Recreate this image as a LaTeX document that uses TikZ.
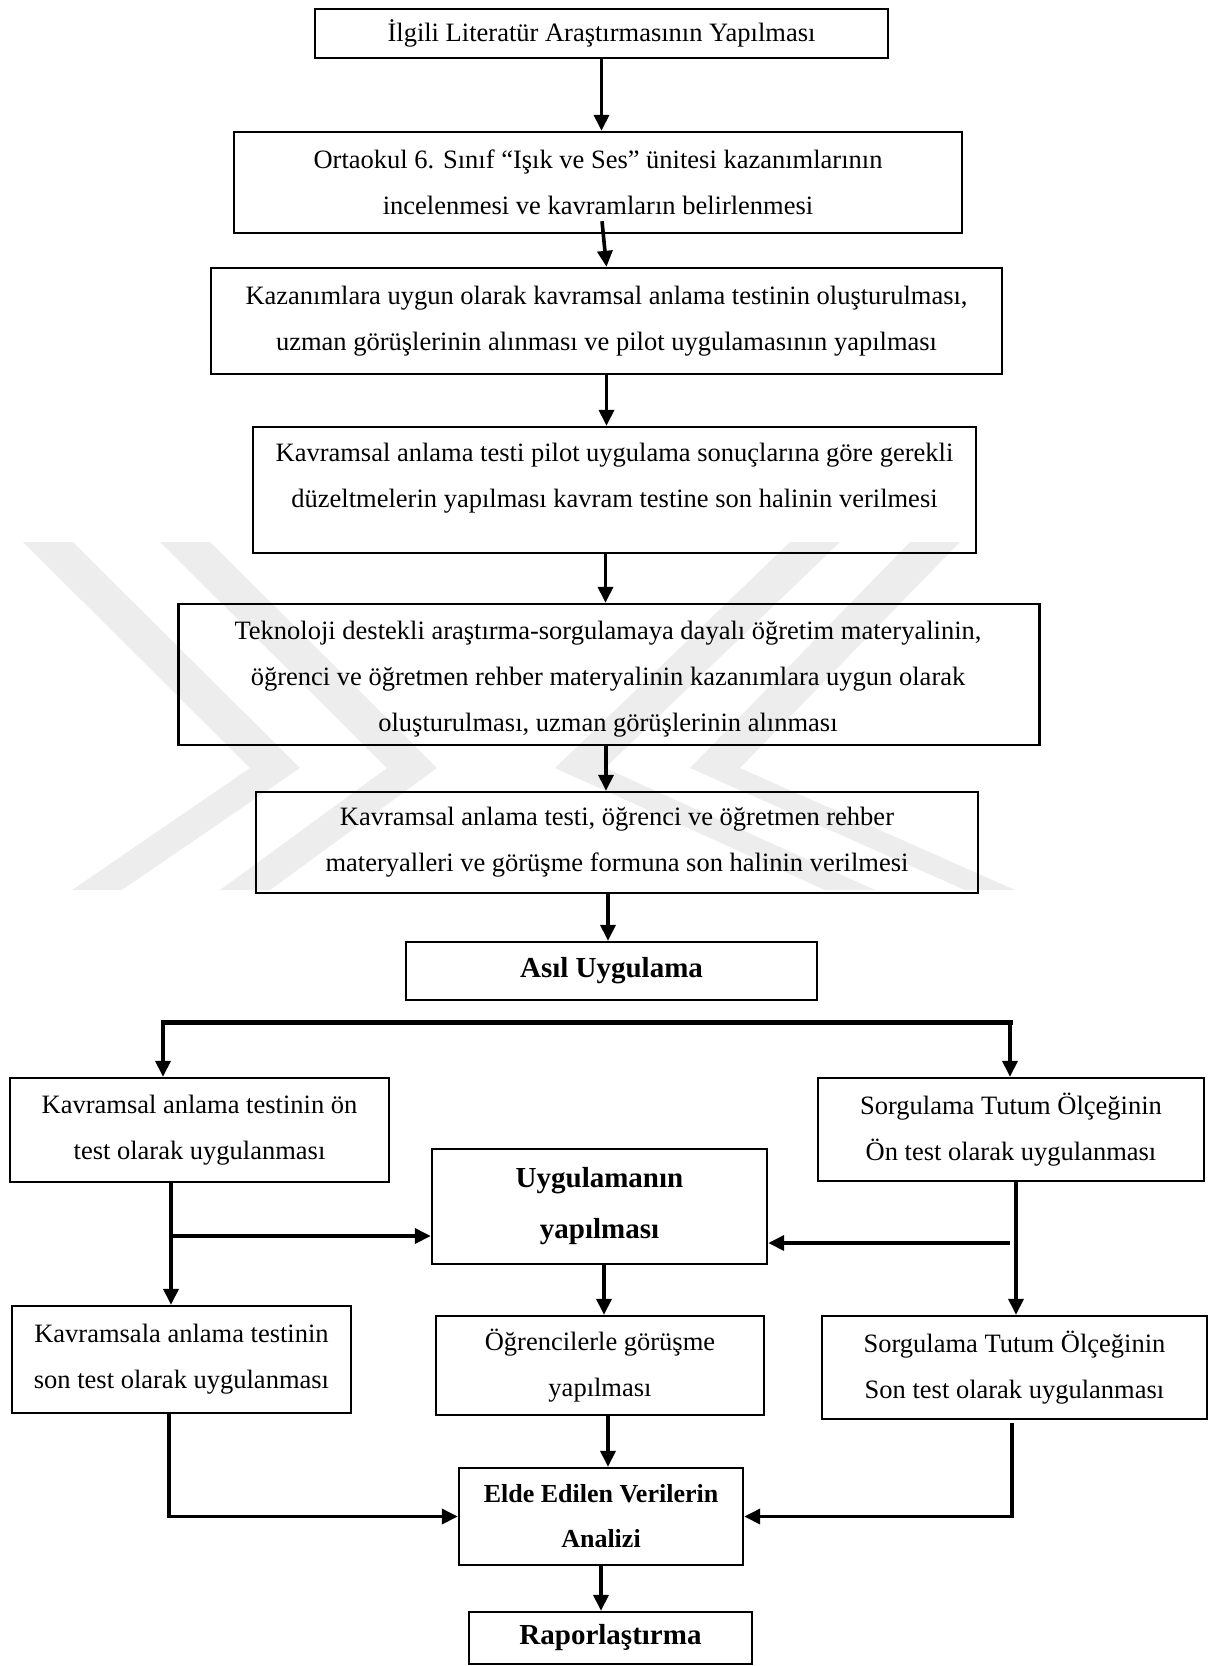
\documentclass[tikz,border=0pt]{standalone}
\usepackage{fontspec}
\setmainfont{Liberation Serif}
\usetikzlibrary{arrows.meta,calc}
\begin{document}
\begin{tikzpicture}[x=1pt,y=-1pt,
  box/.style={draw, line width=2.4pt, inner sep=0pt, align=center,
              font=\fontsize{26.5}{46}\selectfont},
  boldbox/.style={box, font=\fontsize{29}{51}\selectfont\bfseries},
  txt/.style={inner sep=0pt, align=center, font=\fontsize{26.5}{46}\selectfont},
  arr/.style={line width=3.6pt, -{Triangle[length=16pt,width=15pt]}},
  bar/.style={line width=5pt, line cap=rect},
  wmshape/.style={fill=black!7, draw=none}
]
\useasboundingbox (0,0) rectangle (1212,1666);

% faint background emblem
\fill[wmshape] (23,542)--(73,542)--(300,768)--(122,890)--(72,890)--(250,768)--cycle;
\fill[wmshape] (160,542)--(210,542)--(437,768)--(270,890)--(220,890)--(387,768)--cycle;
\fill[wmshape] (790,542)--(840,542)--(605,768)--(875,890)--(825,890)--(555,768)--cycle;
\fill[wmshape] (910,542)--(960,542)--(740,768)--(1015,890)--(965,890)--(690,768)--cycle;

% preparation steps
\node[box, minimum width=573pt, minimum height=49pt] (b1) at (601.5,33.5)
  {İlgili Literatür Araştırmasının Yapılması};
\node[box, minimum width=728pt, minimum height=101pt] (b2) at (598,182.5)
  {Ortaokul 6. Sınıf “Işık ve Ses” ünitesi kazanımlarının\\incelenmesi ve kavramların belirlenmesi};
\node[box, minimum width=791pt, minimum height=106pt] (b3) at (606.5,321)
  {Kazanımlara uygun olarak kavramsal anlama testinin oluşturulması,\\uzman görüşlerinin alınması ve pilot uygulamasının yapılması};
\node[box, minimum width=723pt, minimum height=126pt] (b4) at (614.5,490) {};
\node[txt] (b4t) at (614.5,478)
  {Kavramsal anlama testi pilot uygulama sonuçlarına göre gerekli\\düzeltmelerin yapılması kavram testine son halinin verilmesi};
\node[box, minimum width=861pt, minimum height=141pt] (b5) at (609,674.5) {};
\node[txt] (b5t) at (608,679)
  {Teknoloji destekli araştırma-sorgulamaya dayalı öğretim materyalinin,\\öğrenci ve öğretmen rehber materyalinin kazanımlara uygun olarak\\oluşturulması, uzman görüşlerinin alınması};
\node[box, minimum width=722pt, minimum height=101pt] (b6) at (617,842.5)
  {Kavramsal anlama testi, öğrenci ve öğretmen rehber\\materyalleri ve görüşme formuna son halinin verilmesi};
\node[boldbox, minimum width=411pt, minimum height=58pt] (b7) at (611.5,971)
  {Asıl Uygulama};

% main application
\node[box, minimum width=379pt, minimum height=104pt] (b8) at (199.5,1130)
  {Kavramsal anlama testinin ön\\test olarak uygulanması};
\node[box, minimum width=386pt, minimum height=103pt] (b9) at (1011,1129.5)
  {Sorgulama Tutum Ölçeğinin\\Ön test olarak uygulanması};
\node[boldbox, minimum width=335pt, minimum height=115pt] (b10) at (599.5,1206.5)
  {Uygulamanın\\yapılması};
\node[box, minimum width=339pt, minimum height=107pt] (b11) at (181.5,1359.5)
  {Kavramsala anlama testinin\\son test olarak uygulanması};
\node[box, minimum width=328pt, minimum height=99pt] (b12) at (600,1365.5)
  {Öğrencilerle görüşme\\yapılması};
\node[box, minimum width=385pt, minimum height=103pt] (b13) at (1014.5,1367.5)
  {Sorgulama Tutum Ölçeğinin\\Son test olarak uygulanması};
\node[box, minimum width=284pt, minimum height=97pt,
      font=\fontsize{26}{45}\selectfont\bfseries] (b14) at (601,1516.5)
  {Elde Edilen Verilerin\\Analizi};
\node[boldbox, minimum width=283pt, minimum height=52pt] (b15) at (610.5,1638)
  {Raporlaştırma};

% vertical chain
\draw[arr] (b1.south) -- (b1.south |- b2.north);
\draw[arr] ($(b2.south)+(4,-13)$) -- (b3.north);
\draw[arr] (b3.south) -- (b3.south |- b4.north);
\draw[arr] ([xshift=-9pt]b4.south) -- ([xshift=-9pt]b4.south |- b5.north);
\draw[arr] ([xshift=-3pt]b5.south) -- ([xshift=-3pt]b5.south |- b6.north);
\draw[arr] ([xshift=-9pt]b6.south) -- ([xshift=-9pt]b6.south |- b7.north);

% split into the two pre-tests
\coordinate (bl) at (163,1022);
\coordinate (br) at (1010,1022);
\draw[bar] (bl) -- (br);
\draw[arr] (bl) -- (bl |- b8.north);
\draw[arr] (br) -- (br |- b9.north);

% left branch
\coordinate (lv) at ([xshift=-28.5pt]b8.south);
\coordinate (lj) at (171,1236);
\draw[arr] (lv) -- (lv |- b11.north);
\draw[arr] (lj) -- (lj -| b10.west);

% right branch
\coordinate (rv) at ([xshift=5pt]b9.south);
\coordinate (rj) at (1010,1243);
\draw[arr] (rv) -- (rv |- b13.north);
\draw[arr] (rj) -- (rj -| b10.east);

% middle column
\draw[arr] ([xshift=4.5pt]b10.south) -- ([xshift=4.5pt]b10.south |- b12.north);
\draw[arr] ([xshift=8pt]b12.south) -- ([xshift=8pt]b12.south |- b14.north);

% collecting into the analysis
\draw[arr] ([xshift=-12.5pt]b11.south) |- (b14.west);
\coordinate (rs) at (1012,1423);
\draw[arr] (rs) |- (b14.east);

% report
\draw[arr] (b14.south) -- (b14.south |- b15.north);
\end{tikzpicture}
\end{document}
